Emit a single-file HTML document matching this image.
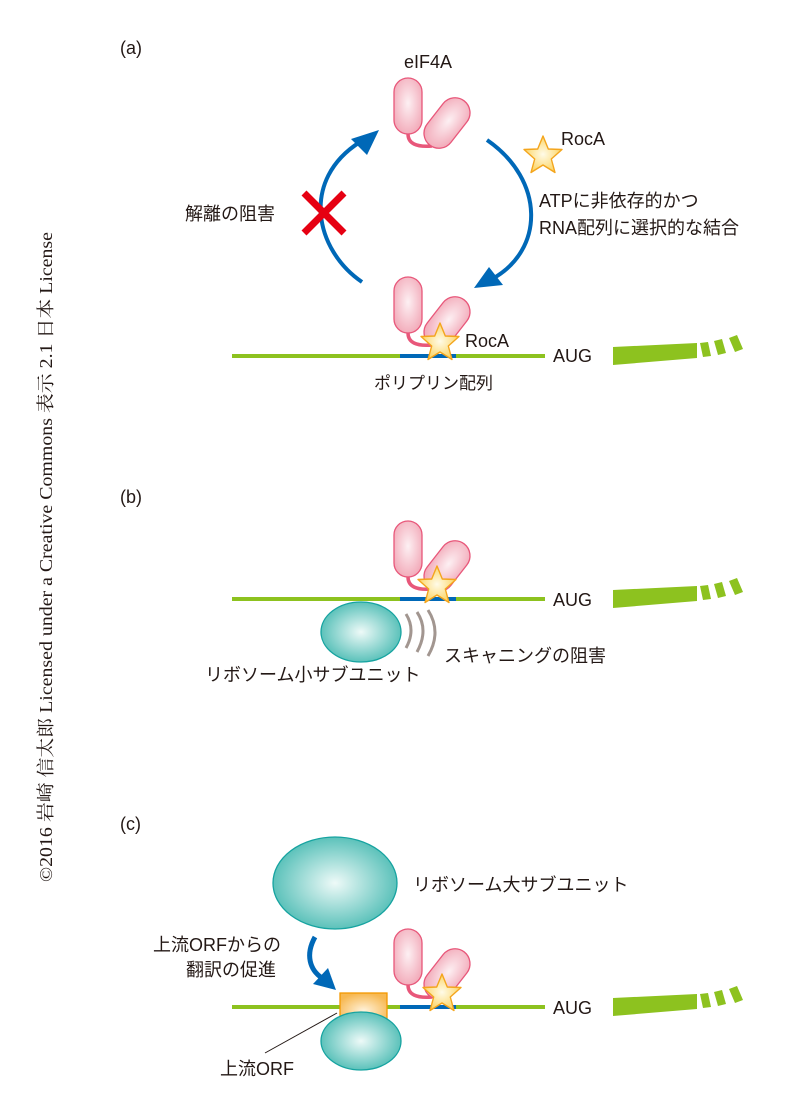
<!DOCTYPE html>
<html><head><meta charset="utf-8">
<style>
html,body{margin:0;padding:0;background:#fff;}
svg{display:block;}
text{font-family:"Liberation Sans","Noto Sans CJK JP",sans-serif;fill:#231815;}
</style></head>
<body>
<svg width="804" height="1116" viewBox="0 0 804 1116" xmlns="http://www.w3.org/2000/svg">
<defs>
<radialGradient id="pk" cx="50%" cy="45%" r="60%"><stop offset="0" stop-color="#fdf0f3"/><stop offset="1" stop-color="#f2a9b8"/></radialGradient>
<radialGradient id="tl" cx="50%" cy="50%" r="55%"><stop offset="0" stop-color="#eefaf8"/><stop offset="1" stop-color="#4dbcb4"/></radialGradient>
<radialGradient id="yl" cx="50%" cy="50%" r="55%"><stop offset="0" stop-color="#fffbe8"/><stop offset="1" stop-color="#fbd25a"/></radialGradient>
<radialGradient id="or" cx="50%" cy="60%" r="60%"><stop offset="0" stop-color="#fff3dd"/><stop offset="1" stop-color="#f7b851"/></radialGradient>
<g id="prot">
<path d="M408,134 Q408,148 432,146" fill="none" stroke="#e8577a" stroke-width="3.5"/>
<rect x="394" y="78" width="28" height="56" rx="14" fill="url(#pk)" stroke="#e8577a" stroke-width="1.3"/>
<rect x="432" y="95" width="30" height="56" rx="15" fill="url(#pk)" stroke="#e8577a" stroke-width="1.3" transform="rotate(38 447 123)"/>
</g>
<g id="star">
<polygon points="0,-20 5.3,-7 19,-6.5 8.3,3 12,16.5 0,9 -12,16.5 -8.3,3 -19,-6.5 -5.3,-7" fill="url(#yl)" stroke="#f4a51c" stroke-width="1.4" stroke-linejoin="round"/>
</g>
<g id="aug">
<path d="M613,347 L697,343 L697,358 L613,365 Z" fill="#8dc21f"/>
<path d="M700,343 L708,342 L711,356 L703,357 Z" fill="#8dc21f"/>
<path d="M714,341 L722,339 L726,353 L718,355 Z" fill="#8dc21f"/>
<path d="M729,338 L737,335 L743,349 L735,352 Z" fill="#8dc21f"/>
</g>
</defs>

<text transform="translate(52,882) rotate(-90)" x="0" y="0" textLength="650" lengthAdjust="spacingAndGlyphs" style="font-family:'Liberation Serif','Noto Serif CJK SC',serif;font-size:18px">©2016 岩崎 信太郎 Licensed under a Creative Commons 表示 2.1 日本 License</text>

<!-- (a) -->
<text x="120" y="54" font-size="18">(a)</text>
<text x="404" y="68" font-size="18">eIF4A</text>
<use href="#prot"/>
<path d="M362,282 C315,250 300,180 360,142" fill="none" stroke="#0068b7" stroke-width="4"/>
<polygon points="379,130 351,139 367,155" fill="#0068b7"/>
<path d="M487,140 C545,180 545,250 492,279" fill="none" stroke="#0068b7" stroke-width="4"/>
<polygon points="474,288 503,285 489,267" fill="#0068b7"/>
<path d="M304,193 L344,233 M344,193 L304,233" stroke="#e60012" stroke-width="7"/>
<text x="185" y="220" font-size="18">解離の阻害</text>
<use href="#star" transform="translate(543,156)"/>
<text x="561" y="145" font-size="18">RocA</text>
<text x="539" y="207" font-size="18">ATPに非依存的かつ</text>
<text x="539" y="234" font-size="18">RNA配列に選択的な結合</text>
<line x1="232" y1="356" x2="545" y2="356" stroke="#8dc21f" stroke-width="4"/>
<line x1="400" y1="356" x2="456" y2="356" stroke="#0068b7" stroke-width="4"/>
<use href="#prot" transform="translate(0,199)"/>
<use href="#star" transform="translate(440,343)"/>
<text x="465" y="347" font-size="18">RocA</text>
<text x="553" y="362" font-size="18">AUG</text>
<use href="#aug"/>
<text x="374" y="389" font-size="17">ポリプリン配列</text>

<!-- (b) -->
<text x="120" y="503" font-size="18">(b)</text>
<line x1="232" y1="599" x2="545" y2="599" stroke="#8dc21f" stroke-width="4"/>
<line x1="400" y1="599" x2="456" y2="599" stroke="#0068b7" stroke-width="4"/>
<use href="#prot" transform="translate(0,443)"/>
<use href="#star" transform="translate(437,586)"/>
<text x="553" y="606" font-size="18">AUG</text>
<use href="#aug" transform="translate(0,243)"/>
<ellipse cx="361" cy="632" rx="40" ry="30" fill="url(#tl)" stroke="#16a3a0" stroke-width="1.3"/>
<g fill="none" stroke="#a29690" stroke-width="3">
<path d="M406,614 Q416,630 406,648"/>
<path d="M417,612 Q429,630 417,652"/>
<path d="M428,610 Q442,632 428,656"/>
</g>
<text x="444" y="662" font-size="18">スキャニングの阻害</text>
<text x="205" y="681" font-size="18">リボソーム小サブユニット</text>

<!-- (c) -->
<text x="120" y="830" font-size="18">(c)</text>
<ellipse cx="335" cy="883" rx="62" ry="46" fill="url(#tl)" stroke="#16a3a0" stroke-width="1.3"/>
<text x="413" y="891" font-size="18">リボソーム大サブユニット</text>
<text x="153" y="951" font-size="18">上流ORFからの</text>
<text x="186" y="976" font-size="18">翻訳の促進</text>
<path d="M315,937 C305,955 310,970 322,978" fill="none" stroke="#0068b7" stroke-width="5"/>
<polygon points="336,990 313,984 328,968" fill="#0068b7"/>
<line x1="232" y1="1007" x2="545" y2="1007" stroke="#8dc21f" stroke-width="4"/>
<line x1="400" y1="1007" x2="456" y2="1007" stroke="#0068b7" stroke-width="4"/>
<use href="#prot" transform="translate(0,851)"/>
<use href="#star" transform="translate(442,994)"/>
<text x="553" y="1014" font-size="18">AUG</text>
<use href="#aug" transform="translate(0,651)"/>
<rect x="340" y="993" width="47" height="30" fill="url(#or)" stroke="#f39800" stroke-width="1.3"/>
<ellipse cx="361" cy="1041" rx="40" ry="29" fill="url(#tl)" stroke="#16a3a0" stroke-width="1.3"/>
<line x1="337" y1="1013" x2="265" y2="1053" stroke="#231815" stroke-width="1"/>
<text x="220" y="1075" font-size="18">上流ORF</text>
</svg>
</body></html>
